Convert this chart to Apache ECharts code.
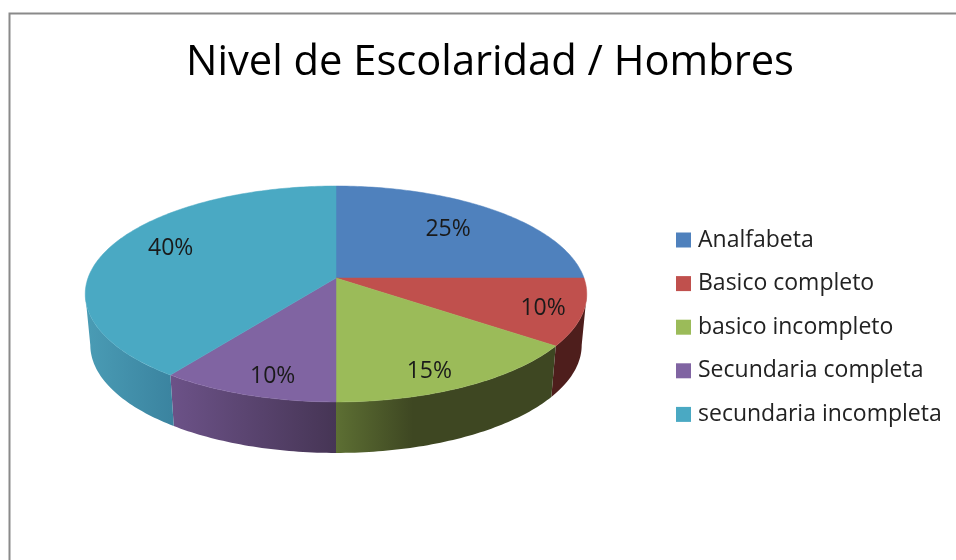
<!DOCTYPE html>
<html>
<head>
<meta charset="utf-8">
<style>html,body{margin:0;padding:0;background:#fff}#c{width:956px;height:560px}</style>
<script src="https://cdn.jsdelivr.net/npm/echarts@6/dist/echarts.min.js"></script>
</head>
<body>
<div id="c"></div>
<script>
var titleText = 'Nivel de Escolaridad / Hombres';
var categories = ['Analfabeta', 'Basico completo', 'basico incompleto', 'Secundaria completa', 'secundaria incompleta'];
var values = [25, 10, 15, 10, 40];

var topColors = ['#4f81bd', '#c0504d', '#9bbb59', '#8064a2', '#4aa9c3'];
var wallFrom = ['#2f4d71', '#4e1e1c', '#5d6f33', '#6c5288', '#4a9cb5'];
var wallTo = ['#2f4d71', '#4e1e1c', '#3e4722', '#463555', '#3b84a0'];
var wallStop = [1, 1, 0.35, 1, 1];
var labelReachX = [0.706, 0.838, 0.72, 0.71, 0.733];
var labelReachY = [0.714, 0.89, 0.862, 0.846, 0.94];

var FONT = '"Open Sans", Lato, sans-serif';
var TAU = Math.PI * 2;
var total = values.reduce(function (a, b) { return a + b; }, 0);
var TOP = { cx: 336, cy: 278, a: 248, b: 105.6, k: 0.148 };
var BOTTOM = { cx: 336, cy: 329, a: 243, b: 105.6, k: 0.148 };

function project(p, theta) {
  var u = Math.sin(theta), v = Math.cos(theta), d = 1 + p.k * v;
  return [p.cx + p.a * u / d, p.cy - p.b * v / d];
}
function startAngle(i) {
  var s = 0;
  for (var j = 0; j < i; j++) s += values[j];
  return s / total * TAU;
}
function rim(p, from, to) {
  var pts = [], n = Math.max(2, Math.ceil((to - from) * 60));
  for (var t = 0; t <= n; t++) pts.push(project(p, from + (to - from) * t / n));
  return pts;
}
// Angle at which the projected rim reaches its right-most point: the side wall is visible past it.
var EDGE = Math.PI - Math.acos(TOP.k);

function renderTop(params, api) {
  var i = params.seriesIndex - categories.length;
  var from = startAngle(i), to = from + values[i] / total * TAU;
  var mid = (from + to) / 2, col = api.visual('color');
  var pts = [[TOP.cx, TOP.cy]].concat(rim(TOP, from, to));
  var full = project(TOP, mid);
  return {
    type: 'group',
    children: [
      { type: 'polygon', shape: { points: pts }, style: { fill: col, stroke: col, lineWidth: 0.5 } },
      { type: 'text', z2: 10, style: {
          text: Math.round(values[i] / total * 100) + '%',
          x: TOP.cx + (full[0] - TOP.cx) * labelReachX[i],
          y: TOP.cy + (full[1] - TOP.cy) * labelReachY[i],
          fill: '#1a1a1a', font: '23px ' + FONT, align: 'center', verticalAlign: 'middle' } }
    ]
  };
}
function renderWall(params, api) {
  var i = params.seriesIndex;
  var from = Math.max(startAngle(i), EDGE);
  var to = Math.min(startAngle(i) + values[i] / total * TAU, TAU - EDGE);
  if (to <= from) return null;
  var a = rim(TOP, from, to), b = rim(BOTTOM, from, to);
  var xs = a.map(function (p) { return p[0]; });
  var x0 = Math.min.apply(null, xs), x1 = Math.max.apply(null, xs);
  var fill = new echarts.graphic.LinearGradient(x0, 0, x1, 0, [
    { offset: 0, color: wallFrom[i] },
    { offset: wallStop[i], color: wallTo[i] },
    { offset: 1, color: wallTo[i] }], true);
  return { type: 'polygon', shape: { points: a.concat(b.reverse()) },
    style: { fill: fill } };
}

var series = [];
categories.forEach(function (name, i) {
  series.push({ type: 'custom', name: '_wall' + i, coordinateSystem: 'none', silent: true, z: 1,
    renderItem: renderWall, data: [[values[i]]] });
});
categories.forEach(function (name, i) {
  series.push({ type: 'custom', name: name, coordinateSystem: 'none', z: 2,
    itemStyle: { color: topColors[i] }, renderItem: renderTop, data: [[values[i]]] });
});

var chart = echarts.init(document.getElementById('c'));
chart.setOption({
  animation: false,
  backgroundColor: '#ffffff',
  title: { text: titleText, left: 485, top: 37, textAlign: 'center',
    textStyle: { fontFamily: FONT, fontSize: 41.7, fontWeight: 'normal', color: '#000' } },
  legend: { data: categories, orient: 'vertical', left: 671, top: 223, icon: 'rect',
    itemWidth: 15, itemHeight: 15, itemGap: 19.6, selectedMode: false,
    textStyle: { fontFamily: FONT, fontSize: 23, color: '#222', lineHeight: 24, padding: [0, 0, 0, 2] } },
  graphic: [{ type: 'polyline', silent: true,
    shape: { points: [[9.5, 560], [9.5, 13.5], [956, 13.5]] },
    style: { stroke: '#8a8a8a', lineWidth: 2, fill: null } }],
  series: series
});
</script>
</body>
</html>
